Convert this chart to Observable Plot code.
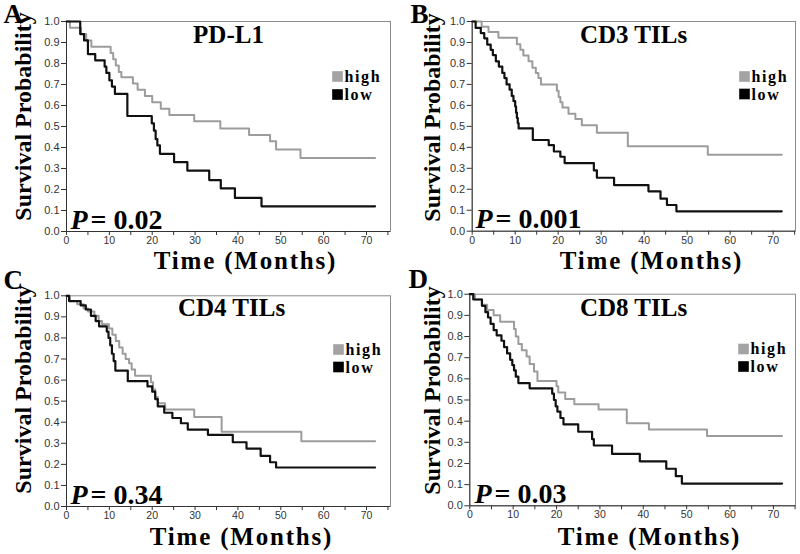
<!DOCTYPE html>
<html><head><meta charset="utf-8">
<script src="https://cdn.jsdelivr.net/npm/d3@7"></script>
<script src="https://cdn.jsdelivr.net/npm/@observablehq/plot@0.6"></script>
<style>
body{margin:0;background:#fff}
#grid{display:grid;grid-template-columns:400px 400px;grid-template-rows:277px 277px;width:800px;height:554px}
#grid svg{display:block;overflow:visible}
</style></head><body><div id="grid"></div>
<script>
// ---- data: [months, survival probability] step points ----
const pdl1High = [[0,1],[0.8,0.97],[3.4,0.94],[4.6,0.91],[5.8,0.88],[10.3,0.85],[10.9,0.82],[11.5,0.79],[12.2,0.76],[12.8,0.735],[15.5,0.705],[16.6,0.675],[18.3,0.645],[20.0,0.615],[22.0,0.585],[24.0,0.555],[29.8,0.525],[35.9,0.49],[42.6,0.46],[47.5,0.43],[48.9,0.39],[54.6,0.35],[72,0.35]];
const pdl1Low = [[0,1],[3.2,0.94],[4.1,0.91],[5.0,0.845],[6.7,0.815],[8.9,0.785],[9.3,0.755],[10.0,0.72],[10.6,0.69],[11.3,0.655],[14.2,0.55],[19.9,0.515],[20.4,0.48],[20.8,0.44],[21.2,0.41],[21.8,0.37],[25.1,0.33],[28.2,0.29],[33.3,0.245],[36.0,0.205],[39.3,0.16],[45.5,0.12],[72,0.12]];
const cd3High = [[0,1],[2.2,0.975],[3.8,0.95],[6.1,0.922],[10.4,0.892],[11.2,0.865],[11.9,0.838],[13.1,0.81],[14.0,0.78],[14.8,0.755],[15.4,0.73],[16.0,0.70],[19.7,0.67],[20.1,0.64],[20.5,0.615],[21.0,0.59],[22.4,0.56],[24.0,0.535],[25.5,0.505],[29.0,0.47],[36.2,0.405],[54.8,0.365],[72,0.365]];
const cd3Low = [[0,1],[0.8,0.97],[2.0,0.945],[2.8,0.92],[3.5,0.89],[4.3,0.865],[4.8,0.84],[5.5,0.81],[6.2,0.785],[7.0,0.755],[7.5,0.73],[8.0,0.70],[8.7,0.675],[9.2,0.645],[9.6,0.62],[10.0,0.595],[10.2,0.565],[10.4,0.54],[10.6,0.515],[10.8,0.49],[14.1,0.435],[17.8,0.41],[19.0,0.38],[20.5,0.355],[21.5,0.325],[28.3,0.29],[29.0,0.255],[33.0,0.22],[41.0,0.19],[43.8,0.155],[45.3,0.125],[47.5,0.095],[72,0.095]];
const cd4High = [[0,1],[0.8,0.975],[2.5,0.96],[4.0,0.94],[5.0,0.925],[6.5,0.905],[7.5,0.88],[8.3,0.865],[9.9,0.845],[10.7,0.815],[11.5,0.785],[12.3,0.755],[13.1,0.725],[13.8,0.70],[14.6,0.68],[15.2,0.65],[16.0,0.62],[19.7,0.59],[20.2,0.555],[20.7,0.52],[21.3,0.49],[23.0,0.46],[29.8,0.425],[36.2,0.355],[54.8,0.31],[72,0.31]];
const cd4Low = [[0,1],[0.6,0.975],[3.3,0.955],[4.5,0.935],[5.7,0.905],[6.8,0.88],[7.6,0.855],[9.4,0.83],[9.8,0.80],[10.2,0.765],[10.6,0.725],[11.0,0.69],[11.4,0.645],[14.3,0.595],[18.9,0.57],[20.0,0.545],[20.7,0.51],[21.3,0.475],[22.8,0.445],[24.7,0.42],[26.7,0.395],[28.3,0.365],[33.0,0.34],[38.8,0.305],[42.0,0.275],[45.3,0.24],[47.5,0.21],[48.9,0.185],[72,0.185]];
const cd8High = [[0,1],[1.2,0.975],[2.8,0.95],[4.0,0.925],[5.5,0.90],[7.0,0.87],[10.2,0.835],[10.6,0.80],[11.2,0.765],[12.0,0.735],[13.1,0.705],[13.8,0.67],[14.8,0.635],[15.6,0.59],[20.0,0.565],[20.4,0.535],[22.0,0.505],[24.1,0.48],[29.7,0.455],[36.2,0.39],[41.3,0.36],[54.7,0.33],[72,0.33]];
const cd8Low = [[0,1],[0.8,0.975],[2.8,0.945],[3.6,0.915],[4.2,0.89],[4.8,0.86],[5.5,0.83],[6.2,0.805],[7.3,0.78],[7.9,0.75],[8.6,0.72],[9.3,0.69],[9.8,0.665],[10.2,0.64],[10.6,0.61],[11.2,0.58],[13.8,0.555],[19.0,0.53],[19.4,0.50],[19.8,0.47],[20.2,0.445],[20.9,0.415],[21.6,0.385],[25.0,0.35],[28.2,0.315],[28.6,0.285],[32.8,0.245],[39.2,0.21],[45.3,0.175],[47.5,0.14],[48.9,0.105],[72,0.105]];

const panelLetters = ["A","B","C","D"];
const panelTitles = ["PD-L1","CD3 TILs","CD4 TILs","CD8 TILs"];
const pValues = ["0.02","0.001","0.34","0.03"];
const groupLabels = ["high","low"];
const yTicks = [0,0.1,0.2,0.3,0.4,0.5,0.6,0.7,0.8,0.9,1.0];
const xTicks = [0,5,10,15,20,25,30,35,40,45,50,55,60,65,70,75];
const xLabel = "Time (Months)";
const yLabel = "Survival Probability";
const seriesHigh = [pdl1High, cd3High, cd4High, cd8High];
const seriesLow = [pdl1Low, cd3Low, cd4Low, cd8Low];

// ---- layout (local pixel positions inside each 400x277 panel) ----
const layouts = [
  {mL:66, mT:21, mR:10, mB:46, xMax:75.6, letter:[3,22], title:[228,42], sqX:337, sqY:[76,94], txX:344, txY:[81,99], p:[70,228], ylab:[30,116], xlab:[245,268]},
  {mL:71.7, mT:21, mR:5, mB:46.3, xMax:75.2, letter:[10,22], title:[233,42], sqX:344, sqY:[76,93.5], txX:351, txY:[81,99], p:[75,227.5], ylab:[39,117], xlab:[251,268]},
  {mL:66, mT:18.3, mR:10, mB:48, xMax:75.6, letter:[3,11], title:[231,38], sqX:338, sqY:[72,89.5], txX:345, txY:[77,95], p:[70,226], ylab:[30,112], xlab:[241,267]},
  {mL:69.3, mT:16.7, mR:5, mB:48.7, xMax:75.1, letter:[8,10], title:[233,38], sqX:343, sqY:[71.5,89], txX:350, txY:[76.5,94.5], p:[74,225], ylab:[39,113], xlab:[249,267]}
];

const serif = "'Liberation Serif','Times New Roman',Times,serif";
const grayLine = "#9c9c9c";
const grid = document.getElementById("grid");

layouts.forEach((L, i) => {
  const at = (x, y) => ({frameAnchor: "top-left", dx: x - L.mL, dy: y - L.mT});
  const txt = (s, x, y, o = {}) => Plot.text([s], {...at(x, y), text: d => d, fontFamily: serif, fontWeight: "bold", lineAnchor: "bottom", textAnchor: "start", fill: "#000", ...o});
  const chart = Plot.plot({
    width: 400, height: 277,
    marginLeft: L.mL, marginTop: L.mT, marginRight: L.mR, marginBottom: L.mB,
    x: {domain: [0, L.xMax]},
    y: {domain: [0, 1]},
    style: {fontFamily: "'Liberation Sans',Arial,sans-serif", fontSize: "11px", background: "#fff", overflow: "visible"},
    marks: [
      Plot.frame({stroke: "#8c8c8c", strokeWidth: 1}),
      Plot.ruleX([0], {stroke: "#333", strokeWidth: 1}),
      Plot.ruleY([0], {stroke: "#333", strokeWidth: 1}),
      Plot.axisY({ticks: yTicks, tickFormat: d3.format(".1f"), tickSize: 5, tickPadding: 2, fontSize: 11, label: null, color: "#333"}),
      Plot.axisX({ticks: xTicks, tickFormat: d => d % 10 === 0 ? String(d) : "", tickSize: 4, tickPadding: 1, fontSize: 10.5, label: null, color: "#333"}),
      Plot.line(seriesHigh[i], {x: d => d[0], y: d => d[1], curve: "step-after", stroke: grayLine, strokeWidth: 2}),
      Plot.line(seriesLow[i], {x: d => d[0], y: d => d[1], curve: "step-after", stroke: "#111", strokeWidth: 2.2}),
      // legend
      Plot.dot([groupLabels[0]], {...at(L.sqX, L.sqY[0]), symbol: "square", r: 6, fill: "#a3a3a3", stroke: "none"}),
      Plot.dot([groupLabels[1]], {...at(L.sqX, L.sqY[1]), symbol: "square", r: 6, fill: "#000", stroke: "none"}),
      txt(groupLabels[0], L.txX, L.txY[0], {fontSize: 16}),
      txt(groupLabels[1], L.txX, L.txY[1], {fontSize: 16}),
      // panel letter and title
      txt(panelLetters[i], L.letter[0], L.letter[1], {fontSize: 27}),
      txt(panelTitles[i], L.title[0], L.title[1], {fontSize: 25, textAnchor: "middle"}),
      // P value
      txt("P", L.p[0], L.p[1], {fontSize: 28, fontStyle: "italic"}),
      txt("= " + pValues[i], L.p[0] + 20, L.p[1], {fontSize: 28}),
      // axis labels
      txt(xLabel, L.xlab[0], L.xlab[1], {fontSize: 25, textAnchor: "middle"}),
      txt(yLabel, L.ylab[0], L.ylab[1], {fontSize: 24, textAnchor: "middle", rotate: -90})
    ]
  });
  // widen the x-axis title and legend labels slightly, as in the reference
  const sel = d3.select(chart).selectAll("text");
  sel.filter(function () { return this.textContent === xLabel; }).attr("letter-spacing", "1.8px");
  sel.filter(function () { return groupLabels.includes(this.textContent); }).attr("letter-spacing", "1.6px");
  grid.appendChild(chart);
});
</script></body></html>
